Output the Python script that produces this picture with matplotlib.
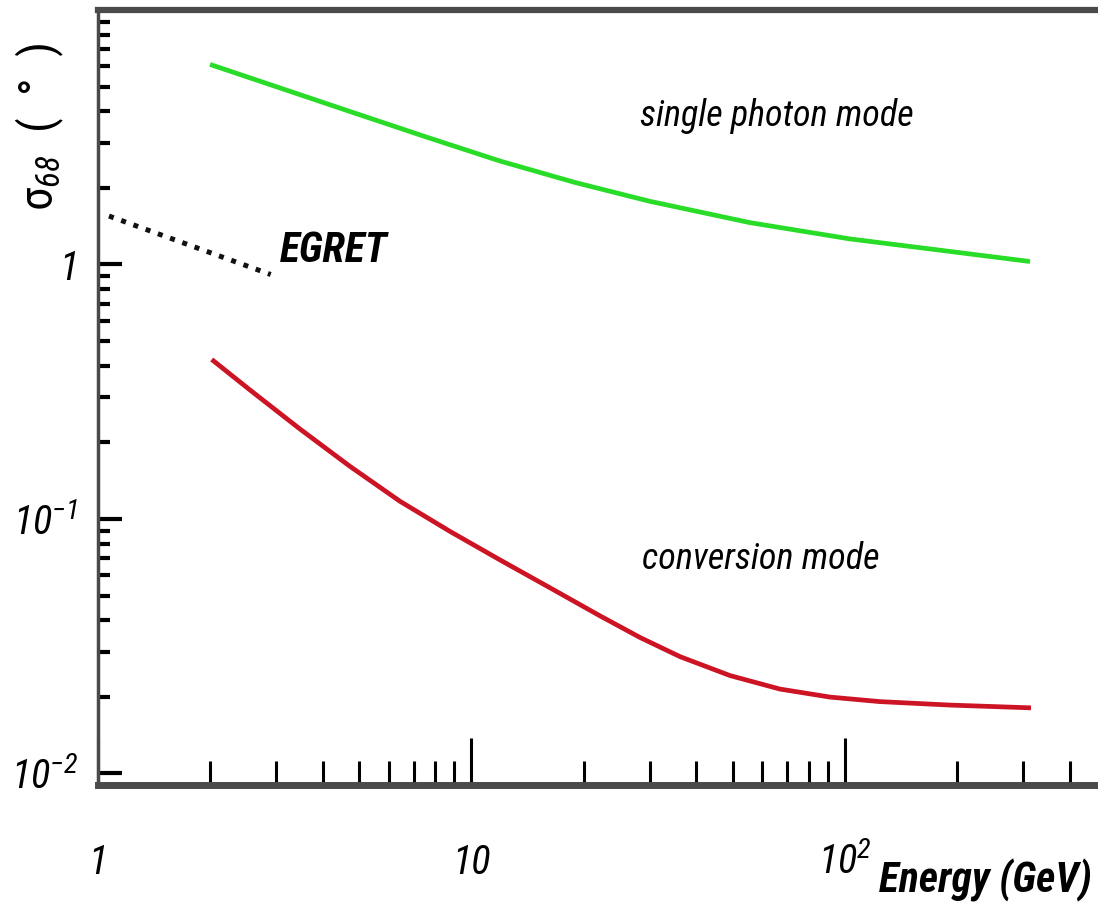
import matplotlib
matplotlib.use("Agg")
import matplotlib.pyplot as plt
from matplotlib import font_manager as fm
from matplotlib.ticker import LogLocator, NullFormatter

# ---- data ----
single_E = [1.995, 3.07, 4.73, 7.51, 11.92, 18.93, 30.06, 55.67, 103.1, 191.0, 312.9]
single_s = [6.11, 4.94, 3.99, 3.18, 2.55, 2.10, 1.77, 1.46, 1.26, 1.125, 1.027]

conv_E = [2.016, 2.553, 3.474, 4.73, 6.44, 8.76, 11.92, 16.23, 22.08, 28.26, 36.16,
          49.22, 66.99, 91.18, 124.1, 191.0, 314.8]
conv_s = [0.4233, 0.3210, 0.2255, 0.1608, 0.1172, 0.0893, 0.0690, 0.0536, 0.0416,
          0.0342, 0.02876, 0.02423, 0.02144, 0.01994, 0.01914, 0.01855, 0.01809]

egret_E = [1.07, 2.9]
egret_s = [1.55, 0.913]

x_ticks = [1, 10, 100]
x_ticklabels = ["1", "10", "$10^{2}$"]
y_ticks = [0.01, 0.1, 1]
y_ticklabels = ["$10^{-2}$", "$10^{-1}$", "1"]

# ---- fonts ----
names = {f.name for f in fm.fontManager.ttflist}
fam = "Liberation Sans"
for cand in ["Liberation Sans Narrow", "Roboto Condensed", "DejaVu Sans Condensed", "Liberation Sans"]:
    if cand in names:
        fam = cand
        break
plt.rcParams["font.family"] = [fam, "DejaVu Sans"]
plt.rcParams["mathtext.fontset"] = "custom"
plt.rcParams["mathtext.rm"] = f"{fam}:italic"
plt.rcParams["mathtext.it"] = f"{fam}:italic"
plt.rcParams["mathtext.bf"] = f"{fam}:bold:italic"

fig = plt.figure(figsize=(10.98, 9.06), dpi=100)
ax = fig.add_axes([98 / 1098, 121 / 906, 1008 / 1098, 775 / 906])
ax.set_xscale("log")
ax.set_yscale("log")
ax.set_xlim(1, 500)
ax.set_ylim(0.009, 10)

ax.plot(single_E, single_s, color="#28dc28", lw=3.4, solid_capstyle="butt",
        solid_joinstyle="round")
ax.plot(conv_E, conv_s, color="#cc1424", lw=3.4, solid_capstyle="butt",
        solid_joinstyle="round")
ax.plot(egret_E, egret_s, color="#111111", lw=3.6, linestyle=(0, (1, 1.6)),
        dash_capstyle="butt")

# spines
for side in ["top", "bottom", "left"]:
    ax.spines[side].set_color("#4a4a4a")
ax.spines["top"].set_linewidth(4.5)
ax.spines["bottom"].set_linewidth(5)
ax.spines["left"].set_linewidth(2.5)
ax.spines["right"].set_visible(False)

# ticks
ax.xaxis.set_minor_locator(LogLocator(base=10, subs=range(2, 10)))
ax.yaxis.set_minor_locator(LogLocator(base=10, subs=range(2, 10)))
ax.xaxis.set_minor_formatter(NullFormatter())
ax.yaxis.set_minor_formatter(NullFormatter())
ax.set_xticks(x_ticks, labels=x_ticklabels)
ax.set_yticks(y_ticks, labels=y_ticklabels)
ax.tick_params(axis="x", which="major", direction="in", length=34, width=2.2,
               top=False, bottom=True, pad=64, labelsize=29, colors="black")
ax.tick_params(axis="x", which="minor", direction="in", length=17, width=2.2,
               top=False, bottom=True)
ax.tick_params(axis="y", which="major", direction="in", length=17, width=3,
               right=False, left=True, pad=14, labelsize=29)
ax.tick_params(axis="y", which="minor", direction="in", length=8.5, width=3,
               right=False, left=True)
for lab in ax.get_xticklabels():
    lab.set_va("baseline")
    lab.set_fontstyle("italic")
for lab in ax.get_yticklabels():
    lab.set_fontstyle("italic")

# labels
ax.set_xlabel("Energy (GeV)", fontsize=30, fontweight="bold", fontstyle="italic",
              ha="center", va="center")
ax.xaxis.set_label_coords(0.88, -0.1226)
ax.set_ylabel("σ$_{68}$  (  °  )", fontsize=34, va="center")
ax.yaxis.set_label_coords(-0.0575, 0.849)

# annotations
ax.text(28.3, 3.49, "single photon mode", fontsize=26, fontstyle="italic",
        ha="left", va="baseline")
ax.text(28.6, 0.0633, "conversion mode", fontsize=26, fontstyle="italic",
        ha="left", va="baseline")
ax.text(3.07, 1.02, "EGRET", fontsize=30, fontweight="bold", fontstyle="italic",
        ha="left", va="baseline")

fig.savefig("out.png", dpi=100)
